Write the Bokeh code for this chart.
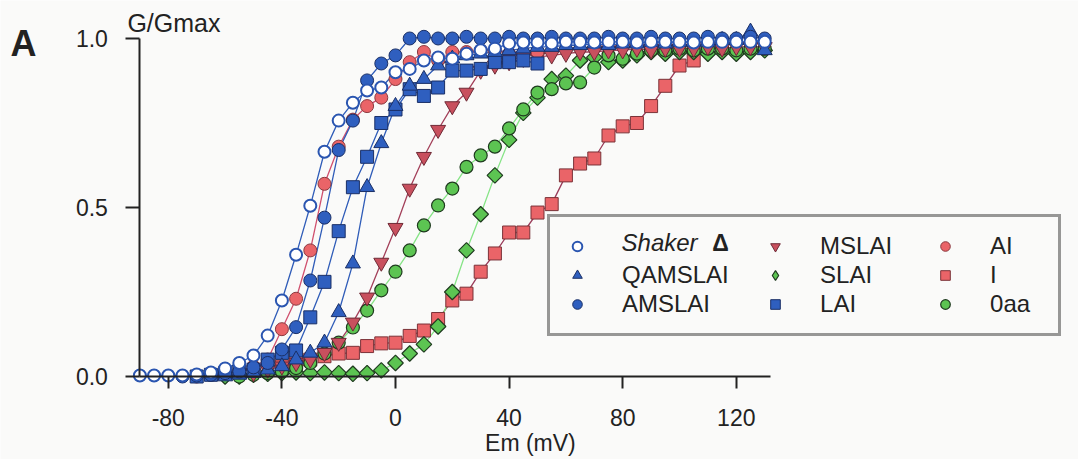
import math
from bokeh.plotting import figure
from bokeh.models import Range1d, Legend, LegendItem, Label, FixedTicker
from bokeh.embed import file_html
from bokeh.resources import INLINE

# Membrane potential steps (mV)
em_mv = [-90, -85, -80, -75, -70, -65, -60, -55, -50, -45, -40, -35, -30, -25, -20,
         -15, -10, -5, 0, 5, 10, 15, 20, 25, 30, 35, 40, 45, 50, 55, 60, 65, 70, 75,
         80, 85, 90, 95, 100, 105, 110, 115, 120, 125, 130]

# G/Gmax per construct (first value at the listed start voltage)
shaker_start = -90
shaker_y = [0.003, 0.003, 0.003, 0.003, 0.006, 0.012, 0.024, 0.04, 0.062, 0.121, 0.225, 0.36,
            0.505, 0.665, 0.757, 0.81, 0.846, 0.855,
            0.90, 0.91, 0.935, 0.944, 0.94, 0.955, 0.965, 0.97, 0.985, 0.988, 0.988, 0.985,
            0.99, 0.99, 0.988, 0.99, 0.99, 0.988, 0.99, 0.99, 0.99, 0.988, 0.99, 0.99, 0.99,
            0.99, 0.99]

qamslai_start = -60
qamslai_y = [0.0, 0.005, 0.01, 0.02, 0.03, 0.05, 0.07, 0.10, 0.19, 0.334, 0.56, 0.69,
             0.80, 0.86, 0.88, 0.92, 0.94, 0.95, 0.955, 0.96, 0.965, 0.97, 0.975, 0.975,
             0.98, 0.98, 0.985, 0.98, 0.985, 0.985, 0.99, 0.985, 0.99, 0.99, 0.99, 0.995,
             0.995, 1.02, 0.965]

amslai_start = -75
amslai_y = [0.0, 0.003, 0.005, 0.01, 0.015, 0.027, 0.04, 0.08, 0.146, 0.284, 0.47, 0.67,
            0.757, 0.876, 0.926,
            0.95, 1.0, 1.005, 1.0, 1.0, 1.005, 1.0, 1.0, 1.005, 1.0, 1.0, 1.005, 1.0, 1.0,
            1.0, 1.005, 1.0, 1.0, 1.005, 1.0, 1.0, 1.0, 1.005, 1.0, 1.0, 1.005, 1.0]

mslai_start = -50
mslai_y = [0.01, 0.02, 0.03, 0.04, 0.05, 0.07, 0.10, 0.16, 0.234, 0.337,
           0.44, 0.556, 0.65, 0.73, 0.80, 0.84, 0.905, 0.92, 0.93, 0.94, 0.945, 0.95,
           0.955, 0.96, 0.96, 0.965, 0.965, 0.97, 0.965, 0.97, 0.97, 0.97, 0.975, 0.97,
           0.975, 0.975, 0.975]

slai_start = -60
slai_y = [0.0, 0.0, 0.005, 0.008, 0.01, 0.012, 0.01, 0.012, 0.01, 0.008, 0.01, 0.018,
          0.04, 0.068, 0.095, 0.148, 0.25, 0.373, 0.48, 0.595, 0.70, 0.78, 0.825, 0.88,
          0.89, 0.935, 0.944, 0.93, 0.935, 0.95, 0.96, 0.955, 0.96, 0.96, 0.955, 0.96,
          0.955, 0.96, 0.965]

lai_start = -70
lai_y = [0.0, 0.005, 0.01, 0.015, 0.02, 0.05, 0.07, 0.077, 0.175, 0.28, 0.43, 0.56, 0.65,
         0.75, 0.79, 0.85, 0.83, 0.855, 0.905, 0.905, 0.91, 0.93, 0.93, 0.935, 0.926]

ai_start = -70
ai_y = [0.0, 0.005, 0.01, 0.015, 0.03, 0.05, 0.14, 0.23, 0.373, 0.57, 0.68, 0.76, 0.80,
        0.825, 0.88, 0.93, 0.96, 0.935, 0.96, 0.96, 0.965, 0.965, 0.955, 0.955, 0.96]

i_start = -40
i_y = [0.03, 0.04, 0.05, 0.06, 0.068, 0.07, 0.09, 0.098, 0.10, 0.12, 0.136, 0.17, 0.225,
       0.245, 0.31, 0.364, 0.426, 0.426, 0.485, 0.51, 0.595, 0.63, 0.645, 0.713, 0.74,
       0.75, 0.80, 0.86, 0.92, 0.935]

oaa_start = -55
oaa_y = [0.0, 0.005, 0.01, 0.015, 0.025, 0.04, 0.068, 0.10, 0.145, 0.195, 0.255,
         0.31, 0.373, 0.447, 0.506, 0.556, 0.62, 0.654, 0.68, 0.734, 0.79, 0.84, 0.85,
         0.867, 0.87, 0.914, 0.95, 0.94, 0.955, 0.965, 0.965, 0.97, 0.965, 0.97, 0.97,
         0.965, 0.97, 0.97]

x_ticks = [-80, -40, 0, 40, 80, 120]
x_tick_labels = {-80: "-80", -40: "-40", 0: "0", 40: "40", 80: "80", 120: "120"}
y_ticks = [0.0, 0.5, 1.0]
y_tick_labels = {0.0: "0.0", 0.5: "0.5", 1.0: "1.0"}


def xs_for(start, ys):
    i0 = em_mv.index(start)
    return em_mv[i0:i0 + len(ys)]


BG = "#fafaf9"
FONT = "Liberation Sans"

p = figure(width=1078, height=459, output_backend="svg", toolbar_location=None,
           x_range=Range1d(-139.08, 240.49), y_range=Range1d(-0.2456, 1.1124),
           min_border=0, min_border_left=0, min_border_right=0, min_border_top=0,
           min_border_bottom=0,
           background_fill_color=BG, border_fill_color=BG, outline_line_color=None)
p.grid.visible = False

# axes (drawn inside the frame, crossing at y=0 and x=-90)
p.xaxis.fixed_location = 0
p.yaxis.fixed_location = -90
p.xaxis.bounds = (-90, 132)
p.yaxis.bounds = (0, 1)
p.xaxis.ticker = FixedTicker(ticks=x_ticks)
p.yaxis.ticker = FixedTicker(ticks=y_ticks)
p.xaxis.major_label_overrides = x_tick_labels
p.yaxis.major_label_overrides = y_tick_labels
for ax in (p.xaxis[0], p.yaxis[0]):
    ax.axis_line_color = "#222"
    ax.axis_line_width = 2
    ax.major_tick_line_color = "#222"
    ax.major_tick_line_width = 2
    ax.major_tick_in = 0
    ax.minor_tick_line_color = None
    ax.major_label_text_font = FONT
    ax.major_label_text_font_size = "23px"
    ax.major_label_text_color = "#222"
p.xaxis.major_tick_out = 12
p.yaxis.major_tick_out = 14
p.xaxis.major_label_standoff = 21
p.yaxis.major_label_standoff = 18

BLUE_LINE = "#2f5cb8"
DIAMOND_ANGLE = math.pi / 4
series = [
    # name, start, ys, marker, size, angle, fill, edge, edge_w, line_color
    ("I", i_start, i_y, "square", 13, 0, "#ea6468", "#7a3238", 1.0, "#9a3c5a"),
    ("SLAI", slai_start, slai_y, "square", 11, DIAMOND_ANGLE, "#5cc452", "#1f3a1f", 1.2, "#86e486"),
    ("0aa", oaa_start, oaa_y, "circle", 13, 0, "#5cc452", "#1f3a1f", 1.2, "#86e486"),
    ("MSLAI", mslai_start, mslai_y, "inverted_triangle", 15, 0, "#c8505e", "#6e2a36", 1.0, "#a3405a"),
    ("AI", ai_start, ai_y, "circle", 13, 0, "#ea6468", "#8a3a40", 1.0, "#d0506e"),
    ("LAI", lai_start, lai_y, "square", 13, 0, "#2f5fbf", "#1a2f66", 1.0, BLUE_LINE),
    ("QAMSLAI", qamslai_start, qamslai_y, "triangle", 15, 0, "#2f5fbf", "#1a2f66", 1.0, BLUE_LINE),
    ("AMSLAI", amslai_start, amslai_y, "circle", 13, 0, "#2f5fbf", "#1a2f66", 1.0, BLUE_LINE),
    ("Shaker", shaker_start, shaker_y, "circle", 12, 0, "white", "#2a55b0", 2.0, BLUE_LINE),
]

rend = {}
for name, start, ys, marker, size, ang, fill, edge, ew, lc in series:
    p.line(xs_for(start, ys), ys, line_color=lc, line_width=1.3)
for name, start, ys, marker, size, ang, fill, edge, ew, lc in series:
    rend[name] = p.scatter(xs_for(start, ys), ys, marker=marker, size=size, angle=ang,
                           fill_color=fill, line_color=edge, line_width=ew)

# legend swatch for the diamond series (a single non-plotted NaN point)
slai_swatch = p.scatter([float("nan")], [float("nan")], marker="diamond", size=12,
                        fill_color="#5cc452", line_color="#1f3a1f", line_width=1.2)

NB = "\u00a0"
items = [
    LegendItem(label=NB, renderers=[rend["Shaker"]]),
    LegendItem(label="QAMSLAI" + NB * 5, renderers=[rend["QAMSLAI"]]),
    LegendItem(label="AMSLAI", renderers=[rend["AMSLAI"]]),
    LegendItem(label="MSLAI" + NB * 6, renderers=[rend["MSLAI"]]),
    LegendItem(label="SLAI", renderers=[slai_swatch]),
    LegendItem(label="LAI", renderers=[rend["LAI"]]),
    LegendItem(label="AI", renderers=[rend["AI"]]),
    LegendItem(label="I", renderers=[rend["I"]]),
    LegendItem(label="0aa" + NB * 2, renderers=[rend["0aa"]]),
]
legend = Legend(items=items, location=(547, 123), orientation="vertical", nrows=3,
                glyph_width=24, glyph_height=24, label_standoff=33, spacing=1, padding=15,
                border_line_color="#333", border_line_width=3,
                background_fill_color="white", background_fill_alpha=0.0,
                label_text_font=FONT, label_text_font_size="24px", label_text_color="#222",
                margin=0)
p.add_layout(legend)

# texts
p.add_layout(Label(x=79.6, y=0.396, text="Shaker", text_font=FONT, text_font_size="24px",
                   text_font_style="italic", text_color="#222", text_baseline="middle",
                   level="overlay"))
p.add_layout(Label(x=111.5, y=0.396, text="Δ", text_font=FONT, text_font_size="23px",
                   text_font_style="bold", text_color="#222", text_baseline="middle",
                   level="overlay"))
p.add_layout(Label(x=-94.4, y=1.047, text="G/Gmax", text_font=FONT, text_font_size="25px",
                   text_color="#222", text_baseline="middle"))
p.add_layout(Label(x=-135.6, y=0.985, text="A", text_font=FONT, text_font_size="36px",
                   text_font_style="bold", text_color="#222", text_baseline="middle"))
p.add_layout(Label(x=47.5, y=-0.196, text="Em (mV)", text_font=FONT, text_font_size="23px",
                   text_color="#222", text_baseline="middle", text_align="center"))

open("out.html", "w").write(file_html(p, INLINE))
